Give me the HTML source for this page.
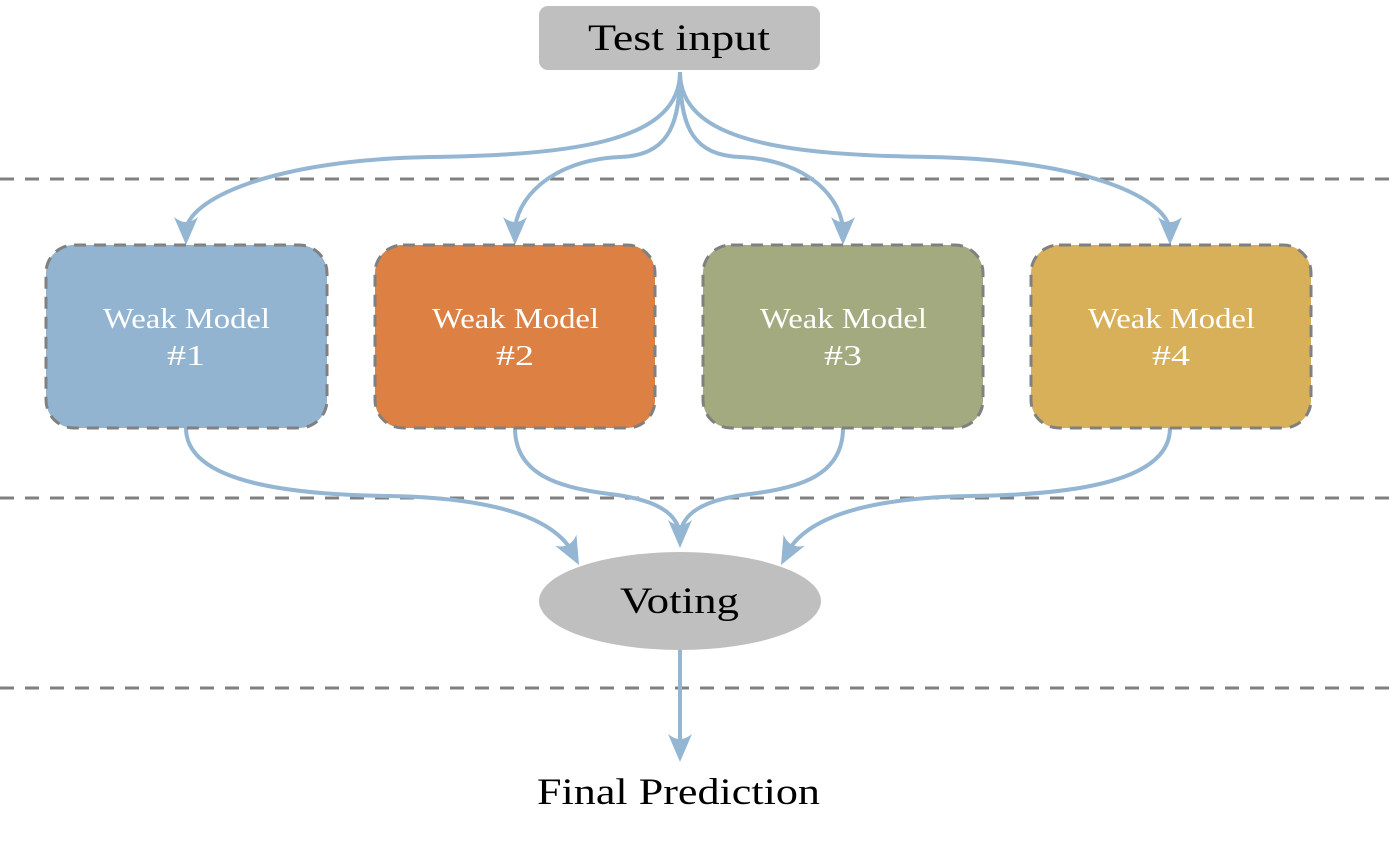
<!DOCTYPE html>
<html><head><meta charset="utf-8"><style>
html,body{margin:0;padding:0;background:#fff;}
svg{display:block;}
text{font-family:"Liberation Serif",serif;}
</style></head><body>
<svg width="1400" height="842" viewBox="0 0 1400 842" xmlns="http://www.w3.org/2000/svg">
<g stroke="#808080" stroke-width="3" stroke-dasharray="14 11">
<line x1="0" y1="179" x2="1400" y2="179"/>
<line x1="0" y1="498" x2="1400" y2="498"/>
<line x1="0" y1="688" x2="1400" y2="688"/>
</g>
<rect x="539" y="6" width="281" height="64" rx="9" fill="#bfbfbf"/>
<text x="588" y="50" font-size="37" textLength="182" lengthAdjust="spacingAndGlyphs" fill="#000">Test input</text>

<g fill="none" stroke="#94b6d3" stroke-width="4">
<path d="M680,72 C680,140 580,155 430,157 C270,160 186,200 186,232"/>
<path d="M680,72 C680,130 665,155 620,157 C550,160 515,200 515,232"/>
<path d="M680,72 C680,130 695,155 740,157 C810,160 843,200 843,232"/>
<path d="M680,72 C680,140 780,155 930,157 C1090,160 1170,200 1170,232"/>
<path d="M186,428 C186,485 300,495 390,496 C500,498 555,520 573,553"/>
<path d="M515,428 C515,475 560,488 610,494 C660,500 678,515 680,535"/>
<path d="M843,428 C843,475 800,488 750,494 C700,500 682,515 680,535"/>
<path d="M1170,428 C1170,485 1060,495 970,496 C860,498 805,520 787,553"/>
<path d="M680,650 L680,750"/>
</g>
<g fill="#94b6d3">
<path d="M186,245 l-12,-28 q12,10 24,0 z"/>
<path d="M515,245 l-12,-28 q12,10 24,0 z"/>
<path d="M843,245 l-12,-28 q12,10 24,0 z"/>
<path d="M1170,245 l-12,-28 q12,10 24,0 z"/>
<path d="M680,548 l-12,-28 q12,10 24,0 z"/>
<path d="M680,762 l-12,-28 q12,10 24,0 z"/>
<path d="M579,565 l-12,-28 q12,10 24,0 z" transform="rotate(-28 579 565)"/>
<path d="M781,565 l-12,-28 q12,10 24,0 z" transform="rotate(28 781 565)"/>
</g>

<g stroke="#808080" stroke-width="3" stroke-dasharray="12 8">
<rect x="46" y="245" width="281" height="183" rx="28" fill="#93b4d0"/>
<rect x="375" y="245" width="280" height="183" rx="28" fill="#dc8044"/>
<rect x="703" y="245" width="280" height="183" rx="28" fill="#a3aa7f"/>
<rect x="1031" y="245" width="280" height="183" rx="28" fill="#d8b05a"/>
</g>
<g fill="#fff" font-size="28">
<text x="103" y="328" textLength="167" lengthAdjust="spacingAndGlyphs">Weak Model</text><text x="167" y="365" textLength="38" lengthAdjust="spacingAndGlyphs">#1</text>
<text x="432" y="328" textLength="167" lengthAdjust="spacingAndGlyphs">Weak Model</text><text x="496" y="365" textLength="38" lengthAdjust="spacingAndGlyphs">#2</text>
<text x="760" y="328" textLength="167" lengthAdjust="spacingAndGlyphs">Weak Model</text><text x="824" y="365" textLength="38" lengthAdjust="spacingAndGlyphs">#3</text>
<text x="1088" y="328" textLength="167" lengthAdjust="spacingAndGlyphs">Weak Model</text><text x="1152" y="365" textLength="38" lengthAdjust="spacingAndGlyphs">#4</text>
</g>
<ellipse cx="680" cy="601" rx="141" ry="49" fill="#bfbfbf"/>
<text x="620" y="613" font-size="37" textLength="119" lengthAdjust="spacingAndGlyphs">Voting</text>
<text x="537" y="804" font-size="37" textLength="283" lengthAdjust="spacingAndGlyphs">Final Prediction</text>
</svg>
</body></html>
